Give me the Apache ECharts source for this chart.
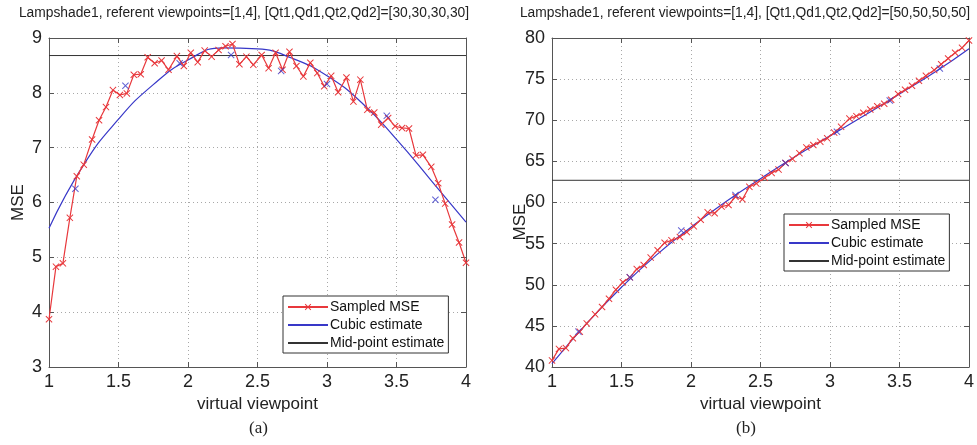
<!DOCTYPE html>
<html><head><meta charset="utf-8">
<script src="https://cdn.jsdelivr.net/npm/echarts@6/dist/echarts.min.js"></script>
<style>html,body{margin:0;padding:0;background:#fff}#c{width:977px;height:445px}</style>
</head><body><div id="c"></div>
<script>
// sample positions (virtual viewpoint)
const xs = [1.00,1.05,1.10,1.15,1.20,1.25,1.31,1.36,1.41,1.46,1.51,1.56,1.61,1.66,1.71,1.76,1.81,1.86,1.92,1.97,
  2.02,2.07,2.12,2.17,2.22,2.27,2.32,2.37,2.42,2.47,2.53,2.58,2.63,2.68,2.73,2.78,2.83,2.88,2.93,2.98,
  3.03,3.08,3.14,3.19,3.24,3.29,3.34,3.39,3.44,3.49,3.54,3.59,3.64,3.69,3.75,3.80,3.85,3.90,3.95,4.00];
// (a) sampled MSE
const sampledA = [3.87,4.83,4.89,5.72,6.48,6.69,7.15,7.50,7.74,8.05,7.96,7.99,8.33,8.34,8.65,8.54,8.59,8.42,8.67,8.49,
  8.73,8.56,8.77,8.66,8.78,8.85,8.89,8.52,8.66,8.51,8.69,8.45,8.73,8.42,8.75,8.49,8.30,8.55,8.36,8.12,
  8.31,8.01,8.28,7.84,8.24,7.69,7.64,7.42,7.54,7.39,7.36,7.35,6.86,6.87,6.65,6.35,5.98,5.60,5.27,4.90];
// (b) sampled MSE
const sampledB = [40.8,42.2,42.3,43.5,44.3,45.3,46.4,47.3,48.3,49.4,50.3,50.9,51.9,52.4,53.3,54.2,55.1,55.4,55.8,56.4,
  57.1,57.9,58.8,58.7,59.5,59.7,60.7,60.4,61.9,62.3,63.0,63.6,64.0,64.8,65.3,66.0,66.7,67.0,67.4,67.8,
  68.5,69.2,70.2,70.5,70.9,71.3,71.7,72.0,72.5,73.2,73.7,74.2,74.8,75.4,76.1,76.8,77.5,78.2,78.8,79.7];
// cubic estimate curves (read at 0.25 steps)
const cubicX = [1,1.25,1.5,1.75,2,2.25,2.5,2.75,3,3.25,3.5,3.75,4];
const cubicA = [5.53,6.69,7.52,8.15,8.60,8.82,8.80,8.63,8.31,7.82,7.15,6.40,5.64];
const cubicB = [40.4,45.3,49.7,53.6,57.0,60.1,62.9,65.6,68.1,70.6,73.2,75.8,78.7];
// points used for the cubic fit (blue markers)
const fitX_A = [1.19,1.55,1.94,2.31,2.67,3.00,3.43,3.78];
const fitA = [6.25,8.13,8.54,8.69,8.40,8.16,7.58,6.05];
const fitX_B = [1.19,1.56,1.93,2.32,2.68,3.05,3.43,3.79];
const fitB = [44.3,50.9,56.6,60.9,64.8,68.6,72.4,76.3];
// mid-point estimates
const midA = 8.68;
const midB = 62.7;
const xTicks = {min:1, max:4, interval:0.5};
const titles = ['Lampshade1, referent viewpoints=[1,4], [Qt1,Qd1,Qt2,Qd2]=[30,30,30,30]',
                'Lampshade1, referent viewpoints=[1,4], [Qt1,Qd1,Qt2,Qd2]=[50,50,50,50]'];
const yRanges = [{min:3,max:9,interval:1},{min:40,max:80,interval:5}];

const RED = '#e8383c', BLUE = '#3838c8', BLACK = '#333';
const XSYM = 'path://M1,0 L5,4 L9,0 L10,1 L6,5 L10,9 L9,10 L5,6 L1,10 L0,9 L4,5 L0,1 Z';
const FONT = 'Liberation Sans, Arial, sans-serif';
const zip = (a,b)=>a.map((v,i)=>[v,b[i]]);

const grids = [{left:49, top:38, width:417, height:329}, {left:552, top:38, width:417, height:329}];
const xAxis = [], yAxis = [], series = [];
const gridLine = {show:true, lineStyle:{color:'#a8a8a8', type:[1,3], width:1}};
[0,1].forEach(g=>{
  xAxis.push({gridIndex:g, type:'value', min:xTicks.min, max:xTicks.max, interval:xTicks.interval,
    name:'virtual viewpoint', nameLocation:'middle', nameGap:27,
    nameTextStyle:{fontFamily:FONT, fontSize:17, color:'#222'},
    axisLine:{show:true, onZero:false, lineStyle:{color:'#555', width:1}},
    axisTick:{show:true, inside:true, length:5, lineStyle:{color:'#555'}},
    axisLabel:{fontFamily:FONT, fontSize:18, color:'#222', margin:6},
    splitLine:gridLine});
  xAxis.push({gridIndex:g, type:'value', position:'top', min:xTicks.min, max:xTicks.max, interval:xTicks.interval,
    axisLine:{show:true, onZero:false, lineStyle:{color:'#555', width:1}},
    axisTick:{show:true, inside:true, length:5, lineStyle:{color:'#555'}},
    axisLabel:{show:false}, splitLine:{show:false}});
  yAxis.push({gridIndex:g, type:'value', min:yRanges[g].min, max:yRanges[g].max, interval:yRanges[g].interval,
    name: g===0 ? 'MSE' : '', nameLocation:'middle', nameGap:22, nameRotate:90,
    nameTextStyle:{fontFamily:FONT, fontSize:17, color:'#222'},
    axisLine:{show:true, onZero:false, lineStyle:{color:'#555', width:1}},
    axisTick:{show:true, inside:true, length:5, lineStyle:{color:'#555'}},
    axisLabel:{fontFamily:FONT, fontSize:18, color:'#222', margin:7},
    splitLine:gridLine});
  yAxis.push({gridIndex:g, type:'value', position:'right', min:yRanges[g].min, max:yRanges[g].max, interval:yRanges[g].interval,
    axisLine:{show:true, onZero:false, lineStyle:{color:'#555', width:1}},
    axisTick:{show:true, inside:true, length:5, lineStyle:{color:'#555'}},
    axisLabel:{show:false}, splitLine:{show:false}});
});
const sets = [
  {s:sampledA, c:cubicA, fx:fitX_A, f:fitA, m:midA},
  {s:sampledB, c:cubicB, fx:fitX_B, f:fitB, m:midB}
];
sets.forEach((d,g)=>{
  const xi = g*2, yi = g*2;
  series.push({name:'Sampled MSE', type:'line', xAxisIndex:xi, yAxisIndex:yi, data:zip(xs,d.s),
    symbol:XSYM, symbolSize:7, showSymbol:true, lineStyle:{color:RED, width:1.2},
    itemStyle:{color:RED}, z:3, animation:false});
  series.push({name:'Cubic estimate', type:'line', xAxisIndex:xi, yAxisIndex:yi, data:zip(cubicX,d.c),
    smooth:0.5, symbol:'none', lineStyle:{color:BLUE, width:1.2}, itemStyle:{color:BLUE}, z:2, animation:false});
  series.push({name:'fit', type:'scatter', xAxisIndex:xi, yAxisIndex:yi, data:zip(d.fx,d.f),
    symbol:XSYM, symbolSize:7, itemStyle:{color:BLUE}, z:4, animation:false});
  series.push({name:'Mid-point estimate', type:'line', xAxisIndex:xi, yAxisIndex:yi, data:[[1,d.m],[4,d.m]],
    symbol:'none', lineStyle:{color:BLACK, width:1}, itemStyle:{color:BLACK}, z:1, animation:false});
});
const legendBase = {orient:'vertical',
  data:[{name:'Sampled MSE'},
        {name:'Cubic estimate', itemStyle:{opacity:0}},
        {name:'Mid-point estimate', itemStyle:{opacity:0}}],
  itemWidth:40, itemHeight:8, itemGap:4, padding:[4,4,3,4], borderColor:'#333', borderWidth:1,
  backgroundColor:'#fff', selectedMode:false,
  textStyle:{fontFamily:FONT, fontSize:14, color:'#111', padding:[0,0,0,-3]}};
const TSTYLE = {fontFamily:FONT, fontSize:13.8, fontWeight:'normal', color:'#222'};
const option = {
  backgroundColor:'#fff', animation:false,
  graphic:[
    {type:'text', x:244, y:13, style:Object.assign({text:titles[0], font:'13.8px "Liberation Sans", Arial, sans-serif', fill:'#222', align:'center', verticalAlign:'middle'})},
    {type:'text', x:745, y:13, style:Object.assign({text:titles[1], font:'13.8px "Liberation Sans", Arial, sans-serif', fill:'#222', align:'center', verticalAlign:'middle'})},
    {type:'text', x:520, y:222, rotation:Math.PI/2,
      style:{text:'MSE', font:'17px "Liberation Sans", Arial, sans-serif', fill:'#222', align:'center', verticalAlign:'middle'}},
    {type:'text', left:249, top:420, style:{text:'(a)', font:'17px "Liberation Serif", serif', fill:'#222'}},
    {type:'text', left:736, top:420, style:{text:'(b)', font:'17px "Liberation Serif", serif', fill:'#222'}}
  ],
  grid: grids,
  xAxis, yAxis, series,
  legend:[Object.assign({left:283, top:296}, legendBase), Object.assign({left:784, top:214}, legendBase)]
};
const chart = echarts.init(document.getElementById('c'), null, {renderer:'canvas'});
chart.setOption(option);
</script></body></html>
